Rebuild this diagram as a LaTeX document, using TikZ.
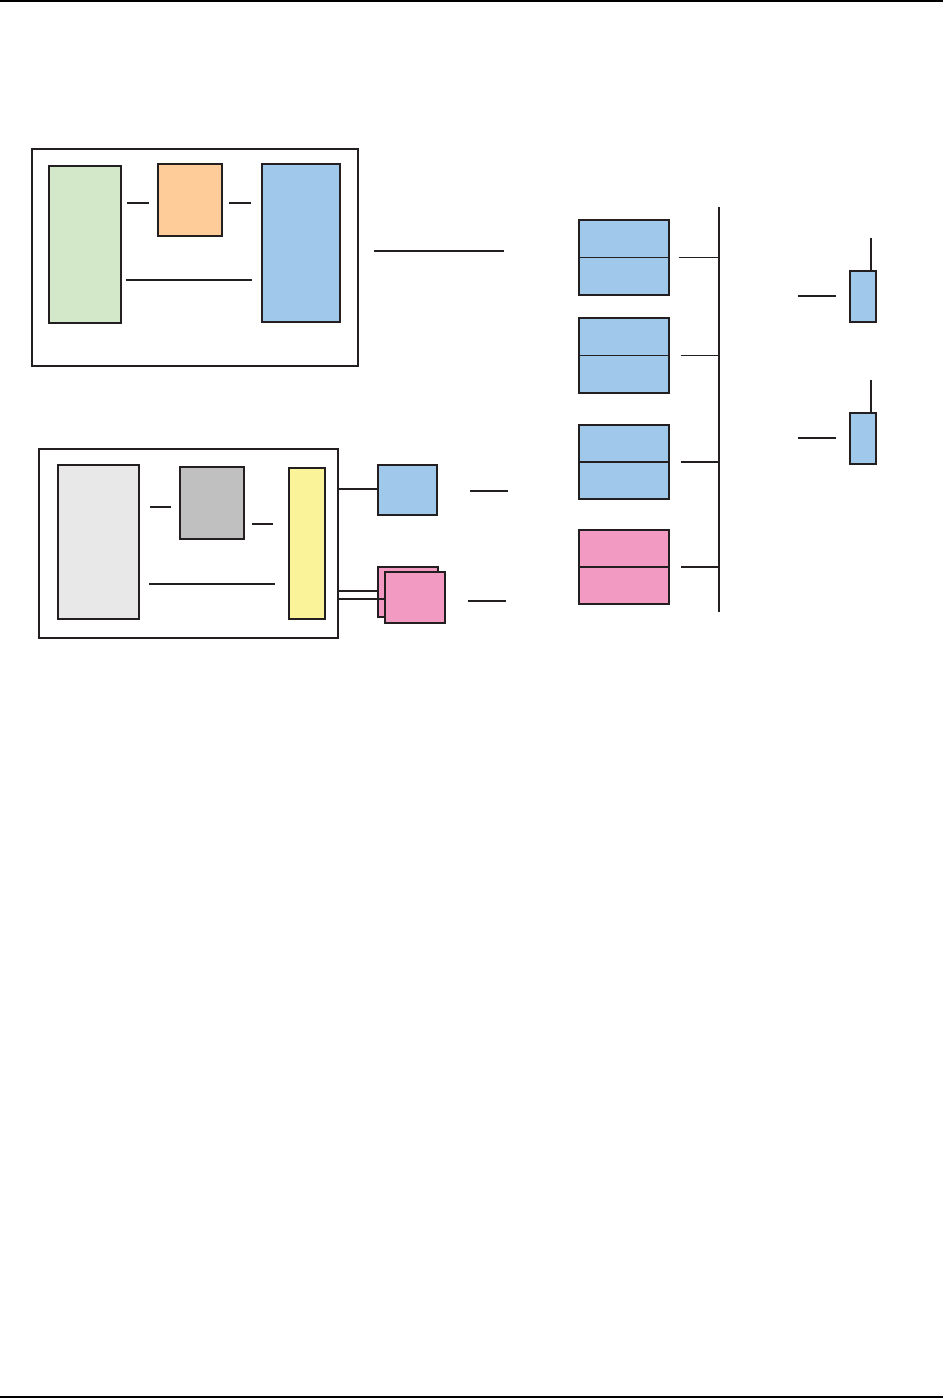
\documentclass[tikz,border=0pt]{standalone}
\definecolor{cgreen}{HTML}{D2E8C8}
\definecolor{corange}{HTML}{FDCC99}
\definecolor{cblue}{HTML}{A0C8EA}
\definecolor{clgray}{HTML}{E8E8E8}
\definecolor{cgray}{HTML}{C0C0C0}
\definecolor{cyellow}{HTML}{FAF39A}
\definecolor{cpink}{HTML}{F39AC2}
\definecolor{cline}{HTML}{231F20}
\newcommand{\pbox}[6]{\node[blk,#6,minimum width={(#4-#2)*0.75pt},minimum height={(#5-#3)*0.75pt}] (#1) at ({(#2+#4)/2},{(#3+#5)/2}) {};}
\begin{document}
\begin{tikzpicture}[x=0.75pt,y=-0.75pt,
  blk/.style={draw=cline,line width=0.8pt,inner sep=0pt,outer sep=0pt,rectangle},
  wire/.style={draw=cline,line width=0.8pt},
  rule/.style={draw=black,line width=1.6pt}]
\useasboundingbox (0,0) rectangle (946,1398);
% page rules
\coordinate (rt1) at (0,0.8); \coordinate (rt2) at (943,0.8);
\coordinate (rb1) at (0,1397); \coordinate (rb2) at (943,1397);
\draw[rule] (rt1) -- (rt2);
\draw[rule] (rb1) -- (rb2);
% upper group
\pbox{frameA}{32}{149}{358}{366}{fill=white}
\pbox{green}{49}{166}{121}{323}{fill=cgreen}
\pbox{orange}{158}{164}{222}{236}{fill=corange}
\pbox{blueA}{262}{164}{340}{322}{fill=cblue}
\coordinate (a1) at (127,203); \coordinate (a2) at (149,203);
\coordinate (a3) at (229,203); \coordinate (a4) at (251,203);
\coordinate (a5) at (126,280); \coordinate (a6) at (252,280);
\coordinate (a7) at (374,251); \coordinate (a8) at (504,251);
\draw[wire] (a1) -- (a2);
\draw[wire] (a3) -- (a4);
\draw[wire] (a5) -- (a6);
\draw[wire] (a7) -- (a8);
% lower group
\pbox{frameB}{39}{449}{338}{638}{fill=white}
\pbox{lgray}{58}{465}{139}{619}{fill=clgray}
\pbox{dgray}{180}{467}{244}{539}{fill=cgray}
\pbox{yellow}{289}{468}{325}{619}{fill=cyellow}
\coordinate (b1) at (150,507); \coordinate (b2) at (171,507);
\coordinate (b3) at (252,524); \coordinate (b4) at (273,524);
\coordinate (b5) at (149,584); \coordinate (b6) at (275,584);
\draw[wire] (b1) -- (b2);
\draw[wire] (b3) -- (b4);
\draw[wire] (b5) -- (b6);
\pbox{blueB}{378}{465}{437}{515}{fill=cblue}
\pbox{pinkback}{378}{567}{438}{617}{fill=cpink}
\pbox{pinkfront}{385}{572}{445}{623}{fill=cpink}
\draw[wire] (frameB.east |- 0,489) -- (blueB.west |- 0,489);
\draw[wire] (frameB.east |- 0,591) -- (pinkback.west |- 0,591);
\draw[wire] (frameB.east |- 0,599) -- (pinkfront.west |- 0,599);
\coordinate (c1) at (470,491); \coordinate (c2) at (508,491);
\coordinate (c3) at (468,601); \coordinate (c4) at (506,601);
\draw[wire] (c1) -- (c2);
\draw[wire] (c3) -- (c4);
% stacked boxes
\pbox{s1}{579}{220}{669}{295}{fill=cblue}
\pbox{s2}{579}{318}{669}{393}{fill=cblue}
\pbox{s3}{579}{425}{669}{499}{fill=cblue}
\pbox{s4}{579}{530}{669}{604}{fill=cpink}
\foreach \s in {s1,s2,s3,s4}{\draw[wire] (\s.west) -- (\s.east);}
\coordinate (bustop) at (719,207); \coordinate (busbot) at (719,612);
\draw[wire] (bustop) -- (busbot);
\draw[wire,shorten <=7.5pt] (s1.east) -- (bustop |- s1.east);
\foreach \s in {s2,s3,s4}{\draw[wire,shorten <=9pt] (\s.east) -- (bustop |- \s.east);}
% small boxes right
\pbox{t1}{850}{271}{876}{322}{fill=cblue}
\pbox{t2}{850}{413}{876}{464}{fill=cblue}
\coordinate (u1) at (871,238); \coordinate (u2) at (871,380);
\draw[wire] (u1) -- (u1 |- t1.north);
\draw[wire] (u2) -- (u2 |- t2.north);
\coordinate (v1) at (798,296); \coordinate (v2) at (836,296);
\coordinate (v3) at (798,438); \coordinate (v4) at (836,438);
\draw[wire] (v1) -- (v2);
\draw[wire] (v3) -- (v4);
\end{tikzpicture}
\end{document}
